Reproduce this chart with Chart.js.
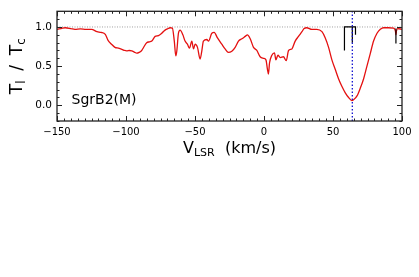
<!DOCTYPE html>
<html lang="en">
<head>
    <meta charset="UTF-8">
    <title>SgrB2(M) absorption spectrum</title>
    <style>
        body { margin: 0; background: #fff; }
        #wrap { width: 419px; height: 277px; }
    </style>
</head>
<body>
    <div id="wrap"><canvas id="spec" width="419" height="277"></canvas></div>

    <script src="https://cdn.jsdelivr.net/npm/chart.js"></script>
    <script>
        // spectrum: velocity (km/s) and line/continuum ratio
        const vel = [-150, -147, -144, -140, -137, -133, -129, -125, -121, -118, -115, -113, -110.5, -108, -105.5,
            -103, -101, -99.5, -97.5, -95.8, -94, -92.2, -90.5, -88.6, -87.4, -85, -83, -81.3, -78.9, -76.5,
            -74.1, -71.7, -70, -68, -66.4, -65, -63.9, -63.2, -62, -60.8, -58.8, -57.2, -55.5, -54, -52.3,
            -51.1, -49.9, -48.2, -46.3, -45.1, -43.9, -41.4, -40.2, -37.8, -36.1, -33.7, -30.6, -28.2, -25.8,
            -23.3, -20.9, -18.5, -16, -13.6, -12, -10, -7.6, -5.2, -2.8, -0.4, 1.4, 2.5, 3.2, 4.0, 5.7, 7.6,
            8.6, 10.1, 11.8, 14.1, 16.1, 17.8, 20.2, 22.6, 25, 27.5, 29.1, 31, 34.7, 38.3, 42, 44.4, 46.8,
            49.2, 51.6, 54, 56.5, 58.9, 61.3, 63.7, 64.9, 67.4, 69.8, 72.2, 74.6, 77, 79.4, 81.9, 84.3, 86.7,
            90, 93.9, 95.2, 95.6, 96, 96.8, 100];
        const ratio = [0.97, 0.98, 0.99, 0.98, 0.97, 0.975, 0.97, 0.97, 0.94, 0.93, 0.905, 0.83, 0.78, 0.74, 0.73,
            0.715, 0.70, 0.695, 0.70, 0.695, 0.68, 0.665, 0.675, 0.70, 0.735, 0.80, 0.81, 0.82, 0.88, 0.89,
            0.92, 0.96, 0.975, 0.99, 0.985, 0.82, 0.63, 0.69, 0.92, 0.96, 0.90, 0.82, 0.78, 0.73, 0.82,
            0.72, 0.78, 0.74, 0.59, 0.69, 0.82, 0.84, 0.82, 0.92, 0.93, 0.86, 0.78, 0.72, 0.675,
            0.69, 0.74, 0.82, 0.85, 0.88, 0.90, 0.85, 0.74, 0.70, 0.62, 0.60, 0.58, 0.46, 0.40, 0.54, 0.64, 0.67,
            0.58, 0.64, 0.61, 0.62, 0.57, 0.70, 0.72, 0.82, 0.88, 0.94, 0.98, 0.99, 0.97, 0.97, 0.94, 0.86, 0.74,
            0.58, 0.46, 0.34, 0.24, 0.16, 0.10, 0.06, 0.07, 0.12, 0.22, 0.34, 0.50, 0.66, 0.82, 0.92, 0.97, 0.99,
            0.99, 0.985, 0.95, 0.90, 0.95, 0.98, 0.97];

        // hyperfine marker (comb) and the extra marker near 96 km/s
        const combVel = [58.3, 58.3, 66.3, 66.3];
        const combVal = [0.70, 1.0, 1.0, 0.90];
        const combMidVel = [64, 64];
        const combMidVal = [1.0, 0.80];
        const markVel = [95.6, 95.6];
        const markVal = [0.98, 0.79];

        const vSys = 64;          // blue dotted line
        const contLevel = 1.0;    // grey dotted continuum

        const xTicks = [-150, -100, -50, 0, 50, 100];
        const yTicks = [0.0, 0.5, 1.0];
        const xMinorStep = 5;
        const yMinorStep = 0.1;
        const xRange = [-150, 100];
        const yRange = [-0.2, 1.2];

        const toPts = (xs, ys) => xs.map((x, i) => ({ x: x, y: ys[i] }));
        const FONT = 'DejaVu Sans';

        // frame, inward ticks, axis titles and the source label
        const decor = {
            id: 'decor',
            afterDraw(chart) {
                const ctx = chart.ctx;
                const { left, right, top, bottom } = chart.chartArea;
                const xs = chart.scales.x, ys = chart.scales.y;
                ctx.save();
                ctx.strokeStyle = '#222';
                ctx.lineWidth = 1;

                ctx.beginPath();
                for (let v = xRange[0]; v <= xRange[1] + 1e-9; v += xMinorStep) {
                    const px = Math.round(xs.getPixelForValue(v)) + 0.5;
                    const len = xTicks.includes(v) ? 5 : 2.5;
                    ctx.moveTo(px, bottom); ctx.lineTo(px, bottom - len);
                    ctx.moveTo(px, top); ctx.lineTo(px, top + len);
                }
                for (let k = -2; k <= 12; k++) {
                    const v = Math.round(k * yMinorStep * 10) / 10;
                    const py = Math.round(ys.getPixelForValue(v)) + 0.5;
                    const len = yTicks.includes(v) ? 5 : 2.5;
                    ctx.moveTo(left, py); ctx.lineTo(left + len, py);
                    ctx.moveTo(right, py); ctx.lineTo(right - len, py);
                }
                ctx.stroke();

                ctx.lineWidth = 1.3;
                ctx.strokeRect(left, top, right - left, bottom - top);

                ctx.fillStyle = '#000';
                ctx.textBaseline = 'alphabetic';

                // x title: V_LSR  (km/s)
                const big = '16px "' + FONT + '"', small = '11px "' + FONT + '"';
                ctx.font = big; const wV = ctx.measureText('V').width;
                const wK = ctx.measureText('  (km/s)').width;
                ctx.font = small; const wL = ctx.measureText('LSR').width;
                let x0 = (left + right) / 2 - (wV + wL + wK) / 2;
                const base = 153;
                ctx.font = big; ctx.fillText('V', x0, base);
                ctx.font = small; ctx.fillText('LSR', x0 + wV, base + 3);
                ctx.font = big; ctx.fillText('  (km/s)', x0 + wV + wL, base);

                // y title: T_l / T_c, centred on the axis
                const bigY = '17px "' + FONT + '"', smallY = '12px "' + FONT + '"';
                ctx.save();
                ctx.translate(22, (top + bottom) / 2);
                ctx.rotate(-Math.PI / 2);
                ctx.font = bigY; const wT = ctx.measureText('T').width, wSl = ctx.measureText('/').width;
                ctx.font = smallY; const wl = ctx.measureText('l').width, wc = ctx.measureText('c').width;
                const total = 56;
                const gap = (total - (2 * wT + wSl + wl + wc)) / 2;
                let t = -total / 2;
                ctx.font = bigY; ctx.fillText('T', t, 0); t += wT;
                ctx.font = smallY; ctx.fillText('l', t, 3); t += wl + gap;
                ctx.font = bigY; ctx.fillText('/', t, 0); t += wSl + gap;
                ctx.fillText('T', t, 0); t += wT;
                ctx.font = smallY; ctx.fillText('c', t, 3);
                ctx.restore();

                ctx.font = '14px "' + FONT + '"';
                ctx.fillText('SgrB2(M)', 71.5, 103.5);
                ctx.restore();
            }
        };

        new Chart(document.getElementById('spec'), {
            type: 'line',
            data: {
                datasets: [
                    {   // drawn on top
                        data: toPts([vSys, vSys], yRange),
                        borderColor: '#1010d0', borderWidth: 1.3, borderDash: [1.5, 2]
                    },
                    { data: toPts(combMidVel, combMidVal), borderColor: '#000', borderWidth: 1.2 },
                    { data: toPts(combVel, combVal), borderColor: '#000', borderWidth: 1.2 },
                    { data: toPts(markVel, markVal), borderColor: '#000', borderWidth: 1.2 },
                    {
                        data: toPts(vel, ratio),
                        borderColor: '#e41010', borderWidth: 1.3,
                        cubicInterpolationMode: 'monotone'
                    },
                    {
                        data: toPts(xRange, [contLevel, contLevel]),
                        borderColor: '#888', borderWidth: 0.8, borderDash: [1, 1.5]
                    }
                ]
            },
            options: {
                responsive: false,
                animation: false,
                devicePixelRatio: 1,
                elements: { point: { radius: 0 }, line: { fill: false } },
                layout: { padding: { left: 0, top: 7, right: 17, bottom: 0 } },
                plugins: { legend: { display: false }, tooltip: { enabled: false } },
                scales: {
                    x: {
                        type: 'linear', min: xRange[0], max: xRange[1],
                        grid: { display: false, drawTicks: false },
                        border: { display: false },
                        afterBuildTicks: s => { s.ticks = xTicks.map(v => ({ value: v })); },
                        afterFit: s => { s.height = 156; },
                        ticks: {
                            padding: 5, maxRotation: 0, color: '#000',
                            font: { family: FONT, size: 10 },
                            callback: v => String(v).replace('-', '\u2212')
                        }
                    },
                    y: {
                        min: yRange[0], max: yRange[1],
                        grid: { display: false, drawTicks: false },
                        border: { display: false },
                        afterBuildTicks: s => { s.ticks = yTicks.map(v => ({ value: v })); },
                        afterFit: s => { s.width = 57; },
                        ticks: {
                            padding: 5, color: '#000',
                            font: { family: FONT, size: 10.5 },
                            callback: v => Number(v).toFixed(1)
                        }
                    }
                }
            },
            plugins: [decor]
        });
    </script>
</body>
</html>
